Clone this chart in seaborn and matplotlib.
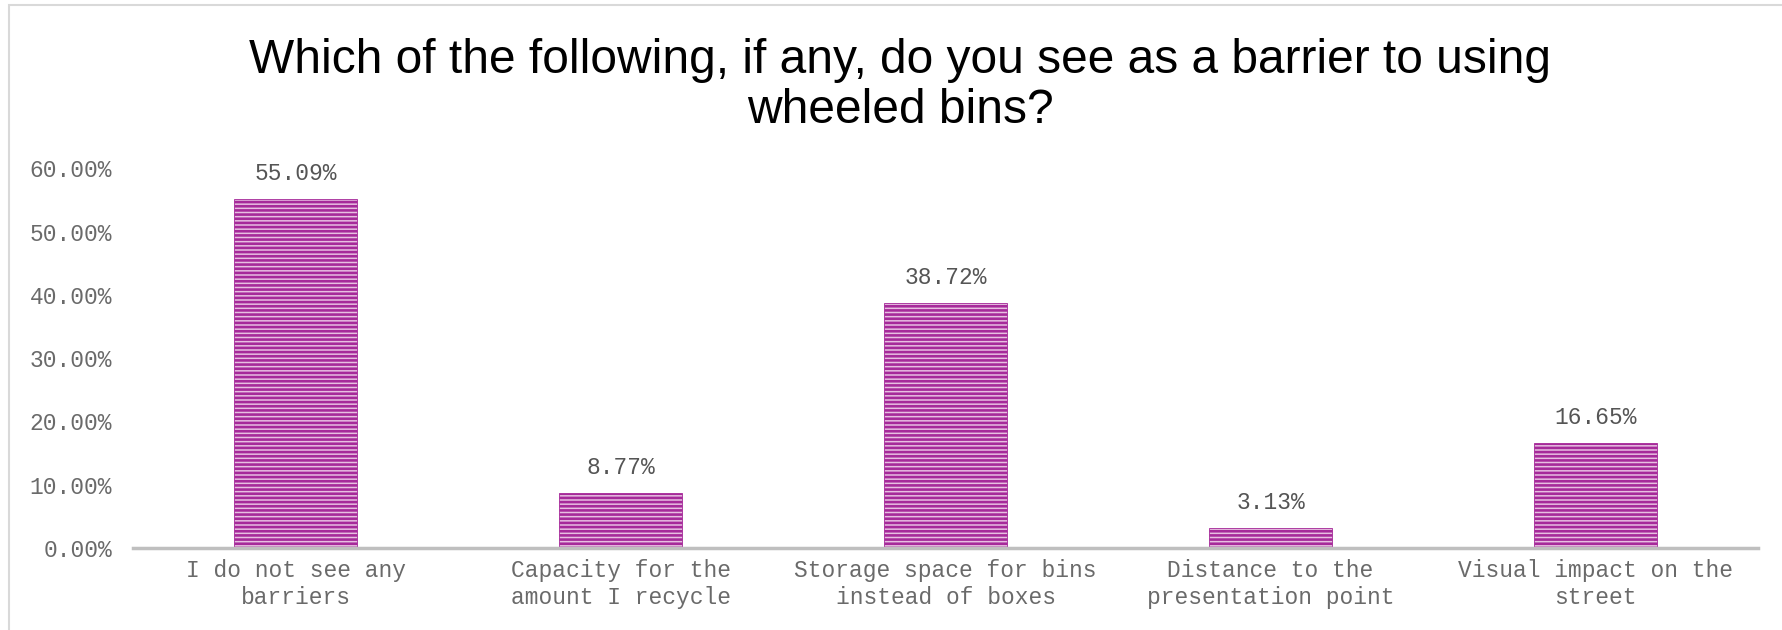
import seaborn as sns
import matplotlib.pyplot as plt
import pandas as pd
from matplotlib.patches import Rectangle
from matplotlib.ticker import FuncFormatter

# data
categories = ["I do not see any\nbarriers",
              "Capacity for the\namount I recycle",
              "Storage space for bins\ninstead of boxes",
              "Distance to the\npresentation point",
              "Visual impact on the\nstreet"]
shares = [55.09, 8.77, 38.72, 3.13, 16.65]
yticks = [0, 10, 20, 30, 40, 50, 60]

df = pd.DataFrame({"barrier": categories, "share": shares})

sns.set_style("white")
plt.rcParams["hatch.linewidth"] = 1.9
mono = "Liberation Mono"
grey = "#6a6a6a"

fig = plt.figure(figsize=(17.83, 6.3), dpi=100)
ax = fig.add_axes([0.0746, 0.130, 0.9114, 0.603])

sns.barplot(data=df, x="barrier", y="share", ax=ax, width=0.378,
            color="#eeb8e6", edgecolor="#a62a9a", linewidth=0.6,
            hatch="----")

ax.set_ylim(0, 60)
ax.set_yticks(yticks)
ax.yaxis.set_major_formatter(FuncFormatter(lambda v, p: f"{v:.2f}%"))
ax.set_xlabel("")
ax.set_ylabel("")
ax.tick_params(axis="both", length=0, labelsize=16.5, labelcolor=grey)
ax.tick_params(axis="y", pad=15)
ax.tick_params(axis="x", pad=8)
for lbl in ax.get_xticklabels() + ax.get_yticklabels():
    lbl.set_fontfamily(mono)

for s in ["top", "right", "left"]:
    ax.spines[s].set_visible(False)
ax.spines["bottom"].set_color("#bfbfbf")
ax.spines["bottom"].set_linewidth(2.5)

for bar, v in zip(ax.patches, shares):
    ax.annotate(f"{v:.2f}%", (bar.get_x() + bar.get_width() / 2, bar.get_height()),
                xytext=(0, 10), textcoords="offset points", ha="center", va="bottom",
                fontsize=16.5, color="#555555", family=mono)

fig.text(0.505, 0.864, "Which of the following, if any, do you see as a barrier to using\nwheeled bins?",
         ha="center", va="center", fontsize=34.5, family="Liberation Sans",
         color="black", linespacing=1.13)

# chart-area frame (only left and top edges visible in the crop)
fig.patches.append(Rectangle((9 / 1783, -0.5), 2, 0.5 + 625 / 630, transform=fig.transFigure,
                             fill=False, edgecolor="#d9d9d9", linewidth=1.5))

plt.savefig("out.png", dpi=100)
